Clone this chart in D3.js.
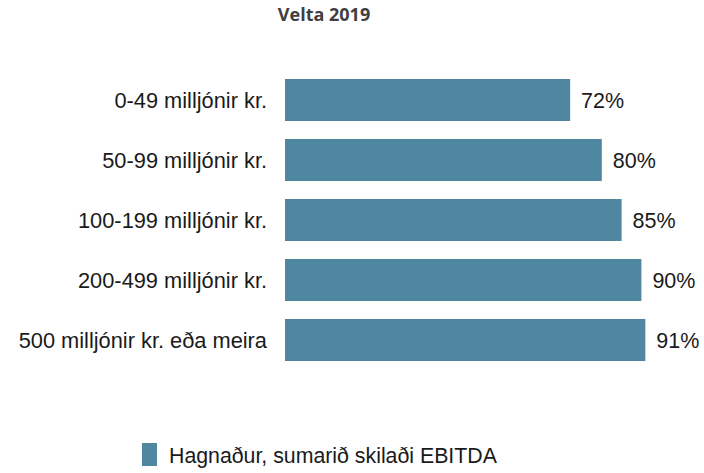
<!DOCTYPE html>
<html>
<head>
<meta charset="utf-8">
<script src="https://cdn.jsdelivr.net/npm/d3@7"></script>
<style>
  body { margin: 0; background: #fff; }
  svg text { font-family: "Liberation Sans", Arial, sans-serif; }
</style>
</head>
<body>
<div id="chart"></div>
<script>
// data
const categories = [
  "0-49 milljónir kr.",
  "50-99 milljónir kr.",
  "100-199 milljónir kr.",
  "200-499 milljónir kr.",
  "500 milljónir kr. eða meira"
];
const values = [72, 80, 85, 90, 91];
const seriesName = "Hagnaður, sumarið skilaði EBITDA";
const title = "Velta 2019";

const svgWidth = 704,
    svgHeight = 473;

const barColor = "#4f87a1";

const svg = d3.select("#chart")
    .append("svg")
    .attr("width", svgWidth)
    .attr("height", svgHeight);

// scales
const x = d3.scaleLinear()
    .domain([0, 100])
    .range([285, 681]);

const y = d3.scaleBand()
    .domain(categories)
    .range([79, 361])
    .paddingInner(0.3)
    .paddingOuter(0);

const rows = categories.map((c, i) => ({ cat: c, value: values[i] }));

// title
svg.append("text")
    .attr("x", 324)
    .attr("y", 21)
    .attr("text-anchor", "middle")
    .style("font-family", "'Open Sans', sans-serif")
    .style("font-weight", "700")
    .style("font-size", "18px")
    .attr("fill", "#404040")
    .text(title);

// bars
svg.selectAll("rect.bar")
    .data(rows)
    .join("rect")
    .attr("class", "bar")
    .attr("x", x(0))
    .attr("y", d => y(d.cat))
    .attr("width", d => x(d.value) - x(0))
    .attr("height", y.bandwidth())
    .attr("fill", barColor);

// category labels
svg.selectAll("text.cat")
    .data(rows)
    .join("text")
    .attr("class", "cat")
    .attr("x", x(0) - 18)
    .attr("y", d => y(d.cat) + y.bandwidth() / 2)
    .attr("dy", "0.35em")
    .attr("text-anchor", "end")
    .style("font-size", "21.8px")
    .attr("fill", "#1a1a1a")
    .text(d => d.cat);

// value labels
svg.selectAll("text.val")
    .data(rows)
    .join("text")
    .attr("class", "val")
    .attr("x", d => x(d.value) + 11)
    .attr("y", d => y(d.cat) + y.bandwidth() / 2)
    .attr("dy", "0.35em")
    .style("font-size", "21.5px")
    .attr("fill", "#1a1a1a")
    .text(d => d.value + "%");

// legend
const legend = svg.append("g").attr("transform", "translate(142,443)");
legend.append("rect")
    .attr("width", 15)
    .attr("height", 23)
    .attr("fill", barColor);
legend.append("text")
    .attr("x", 27)
    .attr("y", 20)
    .style("font-size", "21.3px")
    .attr("fill", "#1a1a1a")
    .text(seriesName);
</script>
</body>
</html>
